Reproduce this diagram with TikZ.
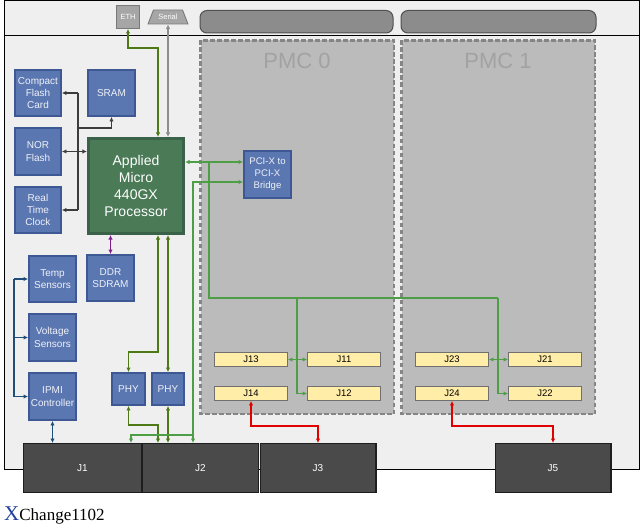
\documentclass[tikz,border=0pt]{standalone}
\usepackage{fontspec}
\setmainfont{Liberation Serif}
\setsansfont{Liberation Sans}
\usetikzlibrary{arrows.meta,shapes.geometric}
\definecolor{cboard}{HTML}{EFEFEF}
\definecolor{cbluefill}{HTML}{5B77B2}
\definecolor{cbluebd}{HTML}{3E5894}
\definecolor{cbluetext}{HTML}{EEF1F7}
\definecolor{cprocfill}{HTML}{4A7A56}
\definecolor{cprocbd}{HTML}{3A6248}
\definecolor{cpmcfill}{HTML}{BBBBBB}
\definecolor{cpmcbd}{HTML}{858585}
\definecolor{cpmctext}{HTML}{A2A2A2}
\definecolor{cbarfill}{HTML}{8C8C8C}
\definecolor{cbarbd}{HTML}{505050}
\definecolor{cethfill}{HTML}{A6A6A6}
\definecolor{cethbd}{HTML}{7A7A7A}
\definecolor{cjyel}{HTML}{FFEDA8}
\definecolor{cjyelbd}{HTML}{707070}
\definecolor{cjdark}{HTML}{4A4A4A}
\definecolor{cjdarkbd}{HTML}{1E1E1E}
\definecolor{wblack}{HTML}{3C3C3C}
\definecolor{wdkgreen}{HTML}{4D7A17}
\definecolor{wltgreen}{HTML}{4E9E46}
\definecolor{wred}{HTML}{E00000}
\definecolor{wblue}{HTML}{1F4E79}
\definecolor{wpurple}{HTML}{80208F}
\definecolor{wgray}{HTML}{8C8C8C}
\definecolor{xblue}{HTML}{1F3F9F}
\begin{document}
\begin{tikzpicture}[x=1pt,y=-1pt,
  >={Latex[length=4.5pt,width=4.5pt]},
  bluebox/.style={draw=cbluebd, fill=cbluefill, line width=2.4pt, text=cbluetext,
    font=\sffamily\fontsize{10}{12.3}\selectfont, align=center, inner sep=0pt},
  procbox/.style={draw=cprocbd, fill=cprocfill, line width=2.6pt, text=white,
    font=\sffamily\fontsize{14}{17.3}\selectfont, align=center, inner sep=0pt},
  jyelbox/.style={draw=cjyelbd, fill=cjyel, line width=0.9pt, minimum width=73pt,
    minimum height=14pt, inner sep=0pt, font=\sffamily\fontsize{9.5}{11}\selectfont},
  jdarkbox/.style={draw=cjdarkbd, fill=cjdark, line width=1.4pt, minimum height=48.6pt,
    inner sep=0pt, text=white, font=\sffamily\fontsize{10}{12}\selectfont},
  pmcbox/.style={draw=cpmcbd, fill=cpmcfill, line width=2.2pt, dash pattern=on 4.5pt off 2.5pt},
  barbox/.style={draw=cbarbd, fill=cbarfill, line width=1pt, rounded corners=7pt},
  portbox/.style={draw=cethbd, fill=cethfill, line width=0.9pt, text=white,
    font=\sffamily\fontsize{7.5}{8}\selectfont, inner sep=0pt},
  wire/.style={line width=1.8pt},
]
\useasboundingbox (0,0) rectangle (640,527);
% board
\fill[cboard] (4.5,0.5) rectangle (639.5,469);
\draw[black, line width=1pt] (4.5,0.5) rectangle (639.5,469);
\draw[black, line width=1pt] (4.5,36) -- (639.5,36);
% front panel
\node[portbox, minimum width=23pt, minimum height=23pt] (eth) at (128,17) {ETH};
\node[portbox, trapezium, trapezium angle=57, trapezium stretches=true,
      minimum width=40pt, minimum height=14pt] (serial) at (168,17) {Serial};
\draw[barbox] (200,10.5) rectangle (393,33);
\draw[barbox] (401,10.5) rectangle (596,33);
% PMC sites
\draw[pmcbox] (200.5,40.5) rectangle (394,414);
\draw[pmcbox] (401.5,40.5) rectangle (595,414);
\node[text=cpmctext, font=\sffamily\fontsize{22}{22}\selectfont] (pmc0) at (297,61) {PMC 0};
\node[text=cpmctext, font=\sffamily\fontsize{22}{22}\selectfont] (pmc1) at (498,61) {PMC 1};
% blue blocks
\node[bluebox, minimum width=45.5pt, minimum height=45.5pt] (cf) at (38,93) {Compact\\Flash\\Card};
\node[bluebox, minimum width=46.5pt, minimum height=45.5pt] (sram) at (111.5,93) {SRAM};
\node[bluebox, minimum width=45.5pt, minimum height=46.5pt] (nor) at (38,151.5) {NOR\\Flash};
\node[bluebox, minimum width=45.5pt, minimum height=45.5pt] (rtc) at (38,210) {Real\\Time\\Clock};
\node[procbox, minimum width=95.5pt, minimum height=95.5pt] (proc) at (136,186) {Applied\\Micro\\440GX\\Processor};
\node[bluebox, minimum width=46.5pt, minimum height=45.5pt] (ddr) at (110.5,278) {DDR\\SDRAM};
\node[bluebox, minimum width=46.5pt, minimum height=45.5pt] (temp) at (52.5,279) {Temp\\Sensors};
\node[bluebox, minimum width=46.5pt, minimum height=46.5pt] (volt) at (52.5,337.5) {Voltage\\Sensors};
\node[bluebox, minimum width=46.5pt, minimum height=46.5pt] (ipmi) at (52.5,396.5) {IPMI\\Controller};
\node[bluebox, minimum width=32.5pt, minimum height=31.5pt] (phy1) at (128.5,389) {PHY};
\node[bluebox, minimum width=31.5pt, minimum height=31.5pt] (phy2) at (168,389) {PHY};
\node[bluebox, minimum width=46.5pt, minimum height=46.5pt, font=\sffamily\fontsize{9.6}{12}\selectfont] (pci) at (267.5,174.5) {PCI-X to\\PCI-X\\Bridge};
% PMC connectors
\node[jyelbox] (j13) at (251,359.5) {J13};
\node[jyelbox] (j11) at (344,359.5) {J11};
\node[jyelbox] (j14) at (251,393.5) {J14};
\node[jyelbox] (j12) at (344,393.5) {J12};
\node[jyelbox] (j23) at (452,359.5) {J23};
\node[jyelbox] (j21) at (545,359.5) {J21};
\node[jyelbox] (j24) at (452,393.5) {J24};
\node[jyelbox] (j22) at (545,393.5) {J22};
% backplane connectors
\node[jdarkbox, minimum width=117.6pt] (j1) at (82.5,468) {J1};
\node[jdarkbox, minimum width=115.6pt] (j2) at (200.5,468) {J2};
\node[jdarkbox, minimum width=115.6pt] (j3) at (318,468) {J3};
\node[jdarkbox, minimum width=115.6pt] (j5) at (553,468) {J5};
% wires: front panel
\draw[wire, wdkgreen, <->] (eth.south) |- (158,48) -- (158,0 |- proc.north);
\draw[wire, wgray, line width=1.5pt, <->] (serial.south) -- (serial.south |- proc.north);
% wires: local bus
\draw[wire, wblack] (78,0 |- cf.east) -- (78,0 |- rtc.east);
\draw[wire, wblack, ->] (78,0 |- cf.east) -- (cf.east);
\draw[wire, wblack, ->] (78,0 |- rtc.east) -- (rtc.east);
\draw[wire, wblack, ->] (78,128) -| (sram.south);
\draw[wire, wblack, <->] (nor.east) -- (nor.east -| proc.west);
% memory
\draw[wire, wpurple, <->] (ddr.north |- proc.south) -- (ddr.north);
% sensors
\draw[wire, wblue] (14,0 |- temp.west) -- (14,0 |- ipmi.west);
\draw[wire, wblue, ->] (14,0 |- temp.west) -- (temp.west);
\draw[wire, wblue, ->] (14,0 |- volt.west) -- (volt.west);
\draw[wire, wblue, ->] (14,0 |- ipmi.west) -- (ipmi.west);
\draw[wire, wblue, <->] (ipmi.south) -- (ipmi.south |- j1.north);
% ethernet PHYs
\draw[wire, wdkgreen, <->] (158,0 |- proc.south) -- (158,352) -| (phy1.north);
\draw[wire, wdkgreen, <->] (phy2.north |- proc.south) -- (phy2.north);
\draw[wire, wdkgreen, <->] (phy1.south) |- (158,425) -- (158,0 |- j2.north);
\draw[wire, wdkgreen, <->] (phy2.south) -- (phy2.south |- j2.north);
% PCI-X
\draw[wire, wltgreen, <->] (proc.east |- 0,162) -- (pci.west |- 0,162);
\draw[wire, wltgreen] (209,162) -- (209,298) -- (498,298);
\draw[wire, wltgreen, ->] (297,298) |- (j12.west);
\draw[wire, wltgreen, ->] (498,298) |- (j22.west);
\draw[wire, wltgreen, <->] (j13.east) -- (j11.west);
\draw[wire, wltgreen, <->] (j23.east) -- (j21.west);
\draw[wire, wltgreen, <->] (pci.west |- 0,182) -| (193,0 |- j2.north);
\draw[wire, wltgreen, ->] (193,435) -| (131,0 |- j1.north);
% PMC I/O
\draw[wire, wred, <->] (j14.south) -- ++(0,25) -| (j3.north);
\draw[wire, wred, <->] (j24.south) -- ++(0,25) -| (j5.north);
% caption
\node[anchor=base west, inner sep=0pt] (cap) at (4,520)
  {{\color{xblue}\fontsize{21}{21}\selectfont X}\fontsize{17}{17}\selectfont Change1102};
\end{tikzpicture}
\end{document}
